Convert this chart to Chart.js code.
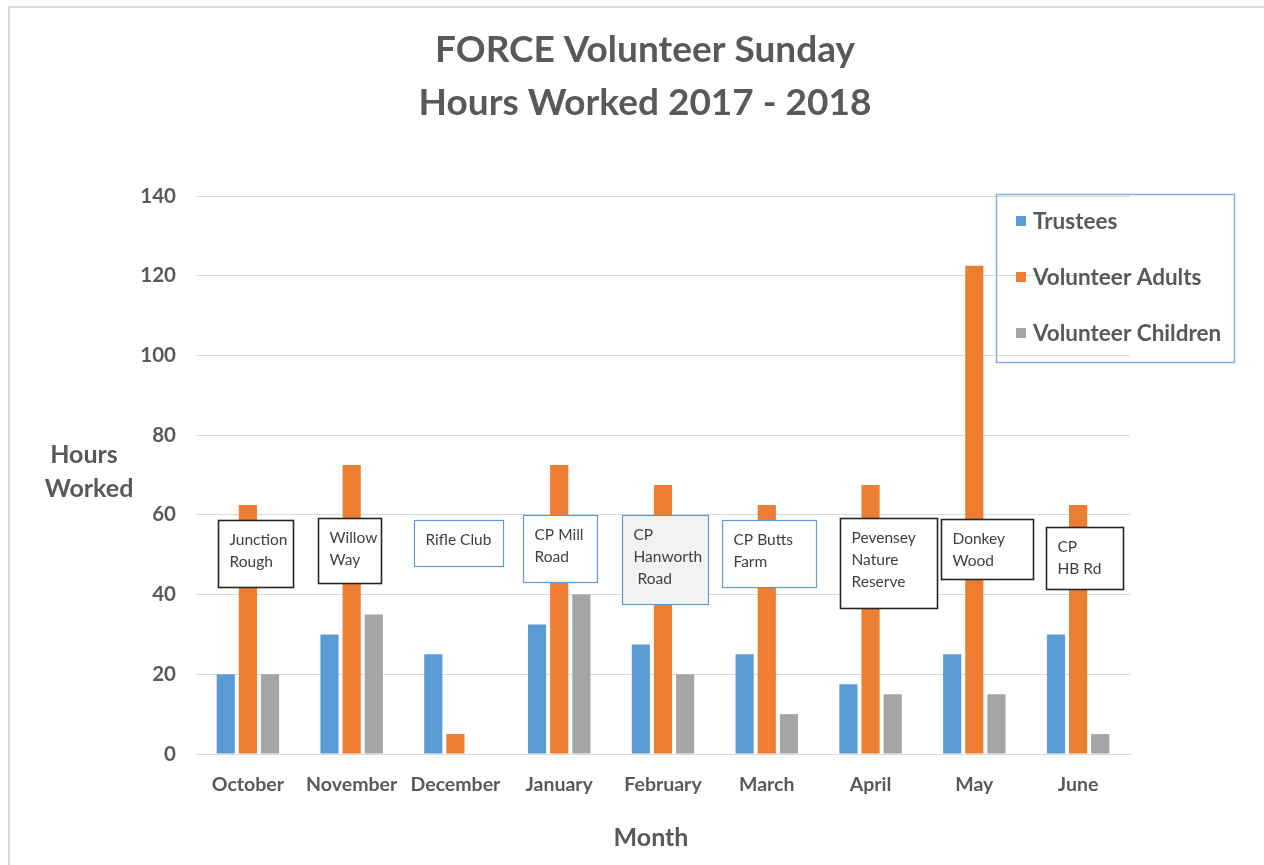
<!DOCTYPE html>
<html>
<head>
<meta charset="utf-8">
<script src="https://cdn.jsdelivr.net/npm/chart.js@4.4.1/dist/chart.umd.min.js"></script>
<style>
  html, body { margin: 0; padding: 0; background: #ffffff; }
  #wrap { width: 1264px; height: 865px; position: relative; }
</style>
</head>
<body>
<div id="wrap"><canvas id="c" width="1264" height="865"></canvas></div>
<script>
// ---- data ----
const months = ["October", "November", "December", "January", "February", "March", "April", "May", "June"];
const trustees = [20, 30, 25, 32.5, 27.5, 25, 17.5, 25, 30];
const volunteerAdults = [62.5, 72.5, 5, 72.5, 67.5, 62.5, 67.5, 122.5, 62.5];
const volunteerChildren = [20, 35, 0, 40, 20, 10, 15, 15, 5];
const seriesNames = ["Trustees", "Volunteer Adults", "Volunteer Children"];
const siteLabels = [
  ["Junction", "Rough"], ["Willow", "Way"], ["Rifle Club"], ["CP Mill", "Road"],
  ["CP", "Hanworth", " Road"], ["CP Butts", "Farm"], ["Pevensey", "Nature", "Reserve"],
  ["Donkey", "Wood"], ["CP", "HB Rd"]
];
const titleLines = ["FORCE Volunteer Sunday", "Hours Worked 2017 - 2018"];
const yTitleLines = ["Hours", "Worked"];
const xTitle = "Month";

// ---- annotation box layout (category offsets / value units) ----
const boxLayout = [
  { x0: -0.289, x1: 0.434, top: 58.7, bottom: 41.9, style: "dark" },
  { x0: -0.328, x1: 0.279, top: 59.2, bottom: 42.9, style: "dark" },
  { x0: -0.395, x1: 0.462, top: 58.7, bottom: 47.2, style: "blue" },
  { x0: -0.347, x1: 0.366, top: 60.0, bottom: 43.2, style: "blue" },
  { x0: -0.395, x1: 0.434, top: 60.0, bottom: 37.6, style: "blueFill" },
  { x0: -0.434, x1: 0.472, top: 58.7, bottom: 41.9, style: "blue" },
  { x0: -0.299, x1: 0.645, top: 59.2, bottom: 36.6, style: "dark" },
  { x0: -0.318, x1: 0.568, top: 59.0, bottom: 43.9, style: "dark" },
  { x0: -0.308, x1: 0.434, top: 57.0, bottom: 41.4, style: "dark" }
];

const colors = ["#5B9BD5", "#ED7D31", "#A5A5A5"];
const textGray = "#595959";
const FONT = "Lato, 'Open Sans', sans-serif";

const decor = {
  id: "decor",
  beforeDraw(chart) {
    const ctx = chart.ctx;
    ctx.save();
    ctx.fillStyle = "#ffffff";
    ctx.fillRect(0, 0, chart.width, chart.height);
    ctx.strokeStyle = "#d9d9d9";
    ctx.lineWidth = 2;
    ctx.beginPath();
    ctx.moveTo(9, chart.height);
    ctx.lineTo(9, 7);
    ctx.lineTo(chart.width, 7);
    ctx.stroke();
    ctx.restore();
  },
  afterDatasetsDraw(chart) {
    const ctx = chart.ctx;
    const xs = chart.scales.x, ys = chart.scales.y;
    const catW = xs.getPixelForValue(1) - xs.getPixelForValue(0);
    ctx.save();
    boxLayout.forEach((b, i) => {
      const cx = xs.getPixelForValue(i);
      const l = Math.round(cx + b.x0 * catW) + 0.5;
      const r = Math.round(cx + b.x1 * catW) + 0.5;
      const t = Math.round(ys.getPixelForValue(b.top)) + 0.5;
      const bt = Math.round(ys.getPixelForValue(b.bottom)) + 0.5;
      ctx.fillStyle = b.style === "blueFill" ? "#f2f2f2" : "#ffffff";
      ctx.fillRect(l, t, r - l, bt - t);
      ctx.strokeStyle = b.style === "dark" ? "#262626" : "#5B9BD5";
      ctx.lineWidth = b.style === "dark" ? 1.6 : 1.2;
      ctx.strokeRect(l, t, r - l, bt - t);
      ctx.fillStyle = "#404040";
      ctx.font = "15.5px " + FONT;
      ctx.textAlign = "left";
      ctx.textBaseline = "middle";
      siteLabels[i].forEach((line, k) => {
        ctx.fillText(line, l + 11, t + 19 + k * 22);
      });
    });
    ctx.restore();
  },
  afterDraw(chart) {
    const ctx = chart.ctx;
    ctx.save();
    ctx.fillStyle = textGray;
    ctx.textAlign = "center";
    ctx.textBaseline = "middle";
    // title
    ctx.font = "bold 37px " + FONT;
    ctx.fillText(titleLines[0], 645, 50);
    ctx.fillText(titleLines[1], 645, 103);
    // axis titles
    ctx.font = "bold 25px " + FONT;
    ctx.fillText(yTitleLines[0], 84, 455);
    ctx.fillText(yTitleLines[1], 89, 489);
    ctx.fillText(xTitle, 651, 838);
    // legend
    const lx0 = 996.5, ly0 = 194.5, lx1 = 1234.5, ly1 = 362.5;
    ctx.strokeStyle = "#7FB0E0";
    ctx.lineWidth = 1.5;
    ctx.strokeRect(lx0, ly0, lx1 - lx0, ly1 - ly0);
    ctx.textAlign = "left";
    ctx.font = "bold 22.5px " + FONT;
    chart.data.datasets.forEach((ds, i) => {
      const cy = 221 + i * 56;
      ctx.fillStyle = ds.backgroundColor;
      ctx.fillRect(1016, cy - 5, 10, 10);
      ctx.fillStyle = textGray;
      ctx.fillText(ds.label, 1033, cy + 1);
    });
    ctx.restore();
  }
};

new Chart(document.getElementById("c"), {
  type: "bar",
  data: {
    labels: months,
    datasets: [
      { label: seriesNames[0], data: trustees, backgroundColor: colors[0] },
      { label: seriesNames[1], data: volunteerAdults, backgroundColor: colors[1] },
      { label: seriesNames[2], data: volunteerChildren, backgroundColor: colors[2] }
    ]
  },
  options: {
    responsive: false,
    animation: false,
    devicePixelRatio: 1,
    layout: { padding: { left: 0, top: 196, right: 134, bottom: 0 } },
    datasets: { bar: { categoryPercentage: 0.64, barPercentage: 0.82 } },
    plugins: { legend: { display: false }, title: { display: false }, tooltip: { enabled: false } },
    scales: {
      x: {
        grid: { display: false, drawTicks: false },
        border: { display: true, color: "#d9d9d9", width: 1 },
        ticks: { color: textGray, font: { family: FONT, size: 19.5, weight: "bold" }, padding: 19, maxRotation: 0 },
        afterFit(s) { s.height = 111; }
      },
      y: {
        min: 0, max: 140,
        ticks: { stepSize: 20, color: textGray, font: { family: FONT, size: 20.5, weight: "bold" }, padding: 20 },
        grid: { color: "#d9d9d9", lineWidth: 1, drawTicks: false },
        border: { display: false },
        afterFit(s) { s.width = 196; }
      }
    }
  },
  plugins: [decor]
});
</script>
</body>
</html>
